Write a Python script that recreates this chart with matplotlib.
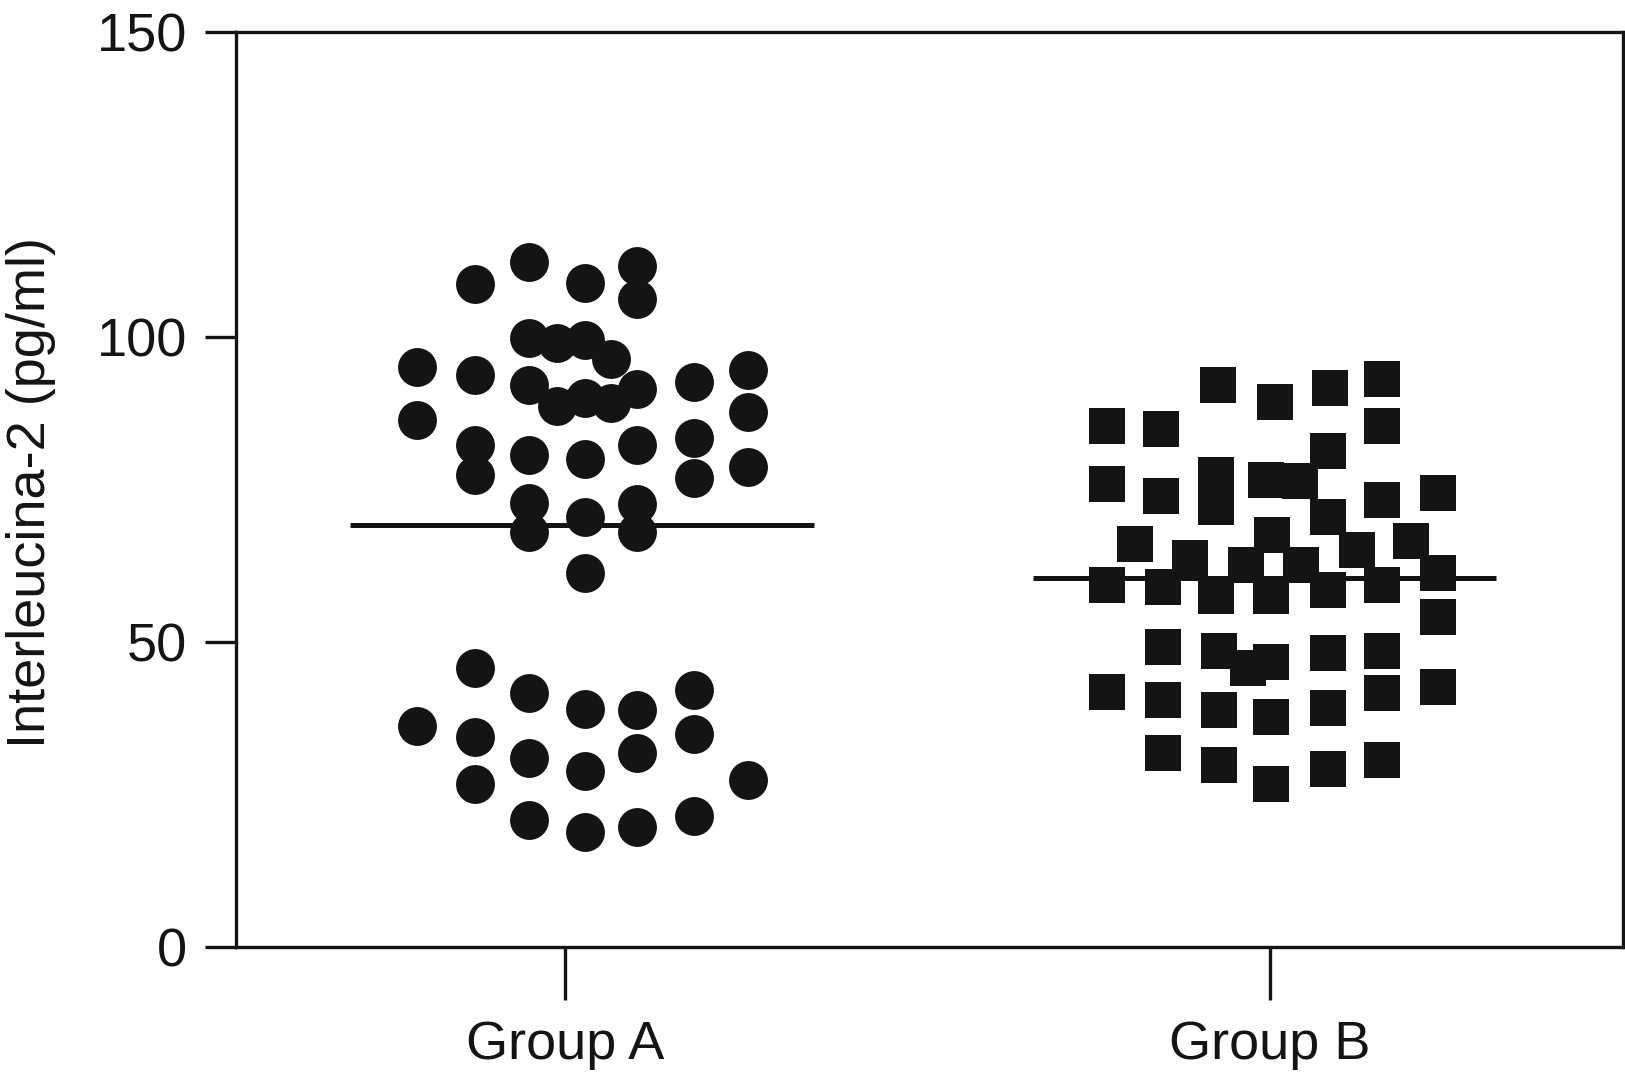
import matplotlib
matplotlib.use("Agg")
import matplotlib.pyplot as plt

plt.rcParams['font.family'] = ['Liberation Sans', 'DejaVu Sans']

# ---- data ----
categories = ["Group A", "Group B"]
cat_pos = [1, 2]

# Group A: x positions (data units) and values
a_x = [0.790, 0.790, 0.790,
       0.873, 0.873, 0.873, 0.873, 0.873, 0.873, 0.873,
       0.949, 0.949, 0.949, 0.949, 0.949, 0.949, 0.949, 0.949, 0.949,
       0.989, 0.989,
       1.029, 1.029, 1.029, 1.029, 1.029, 1.029, 1.029, 1.029, 1.029,
       1.066, 1.066,
       1.102, 1.102, 1.102, 1.102, 1.102, 1.102, 1.102, 1.102, 1.102,
       1.183, 1.183, 1.183, 1.183, 1.183, 1.183,
       1.260, 1.260, 1.260, 1.260]
a_y = [95.1, 86.4, 36.3,
       108.7, 93.8, 82.3, 77.4, 45.8, 34.5, 26.7,
       112.4, 99.9, 92.2, 80.7, 72.8, 68.1, 41.6, 31.0, 20.9,
       99.0, 88.7,
       108.9, 99.5, 90.0, 80.1, 70.5, 61.3, 39.0, 28.9, 18.9,
       96.4, 89.2,
       111.6, 106.2, 91.5, 82.3, 72.7, 68.1, 38.9, 31.8, 19.7,
       92.7, 83.4, 76.9, 42.2, 35.0, 21.6,
       94.7, 87.8, 78.8, 27.4]

# Group B: x positions (data units) and values
b_x = [1.769, 1.846, 1.927, 2.008, 2.086, 2.160, 2.160,
       1.769, 1.846, 1.924, 1.924, 1.995, 2.043, 2.083, 2.083, 2.160, 2.239,
       1.809, 1.887, 2.003, 1.967, 2.045, 2.124, 2.201, 2.239,
       1.769, 1.849, 1.924, 2.002, 2.083, 2.160, 2.239,
       1.849, 1.928, 1.970, 2.002, 2.083, 2.160,
       1.769, 1.849, 1.928, 2.002, 2.083, 2.160, 2.239,
       1.849, 1.928, 2.002, 2.083, 2.160]
b_y = [85.4, 84.9, 92.1, 89.3, 91.7, 93.2, 85.4,
       75.9, 73.9, 77.4, 72.2, 76.6, 76.4, 81.4, 70.6, 73.3, 74.5,
       66.1, 63.8, 67.6, 62.6, 62.6, 65.1, 66.6, 61.4,
       59.3, 59.1, 57.6, 57.5, 58.6, 59.3, 54.2,
       49.2, 48.5, 45.7, 46.8, 48.3, 48.6,
       41.8, 40.5, 38.9, 37.8, 39.3, 41.6, 42.7,
       31.9, 29.9, 26.8, 29.3, 30.7]

# mean lines: value and horizontal extent
mean_vals = [69.2, 60.5]
mean_x0 = [0.695, 1.664]
mean_x1 = [1.354, 2.322]

y_ticks = [0, 50, 100, 150]
y_label = "Interleucina-2 (pg/ml)"

# ---- figure ----
ink = "#141414"
fig = plt.figure(figsize=(16.25, 10.74), dpi=100)
ax = fig.add_axes([236 / 1625, 1 - 947.3 / 1074, 1387 / 1625, (947.3 - 32.1) / 1074])

ax.plot(a_x, a_y, linestyle="none", marker="o", markersize=28,
        markeredgewidth=0, color=ink, clip_on=False)
ax.plot(b_x, b_y, linestyle="none", marker="s", markersize=25.7,
        markeredgewidth=0, color=ink, clip_on=False)

for v, x0, x1 in zip(mean_vals, mean_x0, mean_x1):
    ax.plot([x0, x1], [v, v], color=ink, linewidth=3.6, solid_capstyle="butt")

ax.set_xlim(0.5335, 2.5015)
ax.set_ylim(0, 150)
ax.set_xticks(cat_pos)
ax.set_xticklabels(categories)
ax.set_yticks(y_ticks)
ax.set_yticklabels([str(t) for t in y_ticks])

for sp in ax.spines.values():
    sp.set_linewidth(2.4)
    sp.set_color(ink)

ax.tick_params(axis="y", length=22, width=2.4, pad=13, labelsize=39,
               color=ink, labelcolor=ink)
ax.tick_params(axis="x", length=38, width=2.4, pad=14.5, labelsize=39,
               color=ink, labelcolor=ink)

fig.text(31 / 1625, 1 - 493 / 1074, y_label, rotation=90, ha="center",
         va="center", fontsize=39, color=ink)

fig.savefig("out.png", dpi=100)
